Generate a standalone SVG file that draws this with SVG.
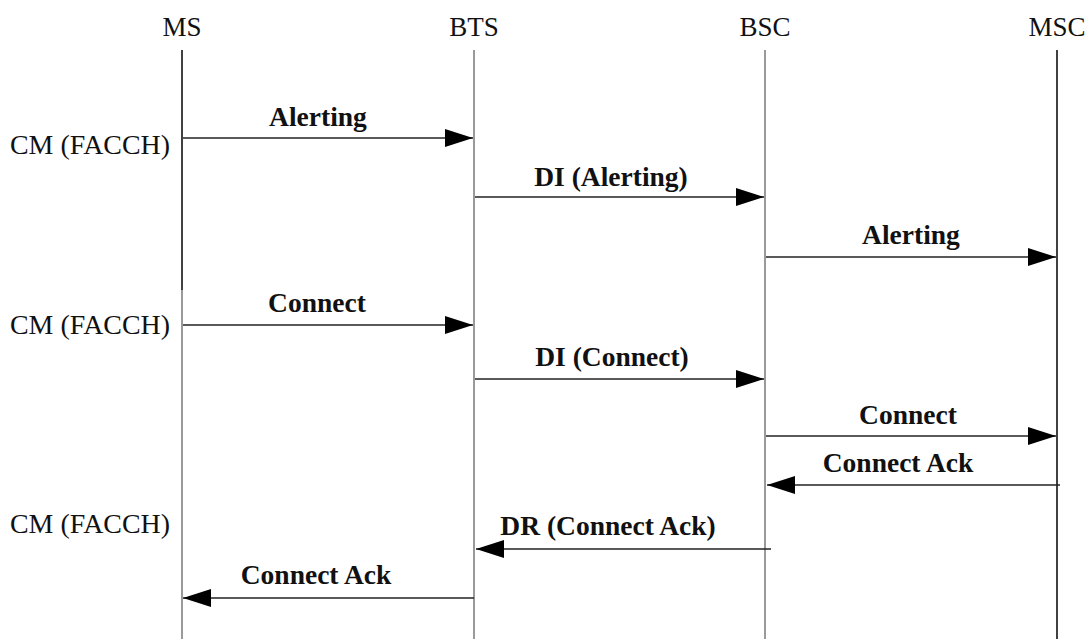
<svg xmlns="http://www.w3.org/2000/svg" width="1086" height="639" viewBox="0 0 1086 639">
  <style>
    text { font-family: "Liberation Serif", "Times New Roman", Times, "DejaVu Serif", serif; fill: #111; }
    .hdr { font-size: 27px; text-anchor: middle; }
    .side { font-size: 26.5px; }
    .msg { font-size: 27.5px; font-weight: bold; text-anchor: middle; }
    .life-dark { stroke: #111; stroke-width: 1.6; }
    .life-grey { stroke: #9a9a9a; stroke-width: 2; }
    .arrow { stroke: #222; stroke-width: 1.5; fill: none; }
  </style>
  <defs>
    <marker id="head" viewBox="0 0 28 18" refX="28" refY="9" markerWidth="28" markerHeight="18" markerUnits="userSpaceOnUse" orient="auto">
      <path d="M0,0 L28,9 L0,18 Z" fill="#000"/>
    </marker>
  </defs>
  <rect width="1086" height="639" fill="#fff"/>

  <g id="ms">
    <text class="hdr" x="182" y="36">MS</text>
    <line class="life-dark" x1="182" y1="50" x2="182" y2="290"/>
    <line class="life-grey" x1="182" y1="290" x2="182" y2="639"/>
    <text class="side" x="10" y="154" textLength="160" lengthAdjust="spacingAndGlyphs">CM (FACCH)</text>
    <text class="side" x="10" y="334" textLength="160" lengthAdjust="spacingAndGlyphs">CM (FACCH)</text>
    <text class="side" x="10" y="533" textLength="160" lengthAdjust="spacingAndGlyphs">CM (FACCH)</text>
  </g>
  <g id="bts">
    <text class="hdr" x="474" y="36">BTS</text>
    <line class="life-grey" x1="474" y1="50" x2="474" y2="639"/>
  </g>
  <g id="bsc">
    <text class="hdr" x="765" y="36">BSC</text>
    <line class="life-grey" x1="765" y1="50" x2="765" y2="639"/>
  </g>
  <g id="msc">
    <text class="hdr" x="1057" y="36">MSC</text>
    <line class="life-dark" x1="1057" y1="50" x2="1057" y2="639"/>
  </g>

  <g id="connectors">
    <line class="arrow" x1="183" y1="138" x2="473" y2="138" marker-end="url(#head)"/>
    <text class="msg" x="318" y="126">Alerting</text>

    <line class="arrow" x1="475" y1="197" x2="764" y2="197" marker-end="url(#head)"/>
    <text class="msg" x="611" y="186">DI (Alerting)</text>

    <line class="arrow" x1="766" y1="257" x2="1056" y2="257" marker-end="url(#head)"/>
    <text class="msg" x="911" y="244">Alerting</text>

    <line class="arrow" x1="183" y1="325" x2="473" y2="325" marker-end="url(#head)"/>
    <text class="msg" x="317" y="312">Connect</text>

    <line class="arrow" x1="475" y1="379" x2="764" y2="379" marker-end="url(#head)"/>
    <text class="msg" x="612" y="366">DI (Connect)</text>

    <line class="arrow" x1="766" y1="436" x2="1056" y2="436" marker-end="url(#head)"/>
    <text class="msg" x="908" y="424">Connect</text>

    <line class="arrow" x1="1060" y1="485" x2="767" y2="485" marker-end="url(#head)"/>
    <text class="msg" x="898" y="472">Connect Ack</text>

    <line class="arrow" x1="771" y1="549" x2="476" y2="549" marker-end="url(#head)"/>
    <text class="msg" x="608" y="535">DR (Connect Ack)</text>

    <line class="arrow" x1="474" y1="598" x2="183" y2="598" marker-end="url(#head)"/>
    <text class="msg" x="316" y="584">Connect Ack</text>
  </g>
</svg>
